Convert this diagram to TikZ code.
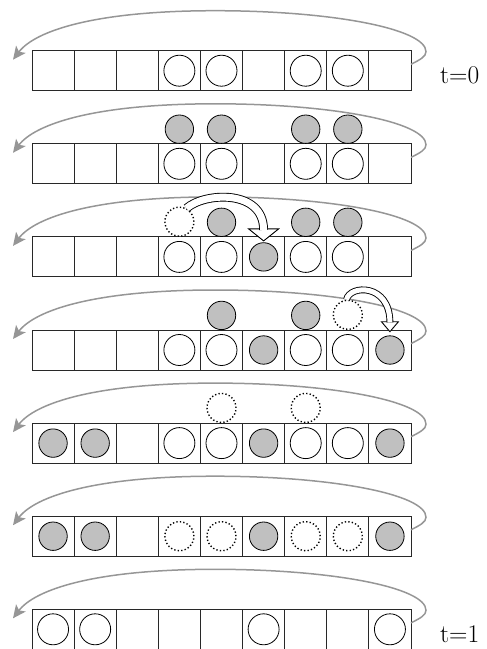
\documentclass[tikz,border=0pt]{standalone}
\usetikzlibrary{arrows.meta,calc}
\definecolor{loopgray}{RGB}{150,150,150}
\definecolor{ballgray}{RGB}{192,192,192}
\definecolor{cellline}{RGB}{40,40,40}
\tikzset{
 cellbox/.style={draw=cellline, line width=0.9pt, minimum width=42.11pt, minimum height=40pt, inner sep=0pt, outer sep=0pt},
 whiteball/.style={circle, draw=black, line width=0.8pt, fill=white, minimum size=31pt, inner sep=0pt},
 grayball/.style={circle, draw=black, line width=0.8pt, fill=ballgray, minimum size=28.4pt, inner sep=0pt},
 dotball/.style={circle, draw=black, line width=1.4pt, dash pattern=on 1.3pt off 2.2pt, fill=white, minimum size=29pt, inner sep=0pt},
 wrap/.style={draw=loopgray, line width=1.5pt, -{Stealth[length=13pt,width=12pt,inset=3pt]}},
 hollowhead/.style={draw=black, line width=0.9pt, fill=white, line join=miter},
 hollowshaft/.style={draw=black, line width=0.9pt, double=white},
 timelabel/.style={anchor=base west, inner sep=0pt, font=\fontsize{25.5}{30}\selectfont},
}
\begin{document}
\begin{tikzpicture}[x=1pt,y=-1pt]
\useasboundingbox (0,0) rectangle (487,649);
\foreach \k in {0,...,6} {
  \pgfmathsetmacro\T{50.7+93.1*\k}
  \foreach \j in {1,...,9} {
    \node[cellbox] (r\k-\j) at ({32+42.11*(\j-0.5)}, {\T+20}) {};
  }
  \coordinate (ws\k) at (411, {\T+13.6});
  \coordinate (we\k) at (13, {\T+9});
  \draw[wrap] (ws\k) .. controls +(9,-4.6) and +(0,5) .. (426,{\T+1})
     .. controls +(0,-23) and +(116.5,0) .. (215,{\T-40})
     .. controls +(-120,0) and (35,{\T-20}) .. (we\k);
}
% balls inside cells
\foreach \k/\j/\s in {0/4/whiteball,0/5/whiteball,0/7/whiteball,0/8/whiteball,
  1/4/whiteball,1/5/whiteball,1/7/whiteball,1/8/whiteball,
  2/4/whiteball,2/5/whiteball,2/6/grayball,2/7/whiteball,2/8/whiteball,
  3/4/whiteball,3/5/whiteball,3/6/grayball,3/7/whiteball,3/8/whiteball,3/9/grayball,
  4/1/grayball,4/2/grayball,4/4/whiteball,4/5/whiteball,4/6/grayball,4/7/whiteball,4/8/whiteball,4/9/grayball,
  5/1/grayball,5/2/grayball,5/4/dotball,5/5/dotball,5/6/grayball,5/7/dotball,5/8/dotball,5/9/grayball,
  6/1/whiteball,6/2/whiteball,6/6/whiteball,6/9/whiteball} {
  \node[\s] (b\k-\j) at (r\k-\j) {};
}
% balls above the rows
\foreach \k/\j/\s in {1/4/grayball,1/5/grayball,1/7/grayball,1/8/grayball,
  2/4/dotball,2/5/grayball,2/7/grayball,2/8/grayball,
  3/5/grayball,3/7/grayball,3/8/dotball,
  4/5/dotball,4/7/dotball} {
  \node[\s, anchor=south] (u\k-\j) at (r\k-\j.north) {};
}
% hollow arrows
\coordinate (tipA) at ($(r2-6.north)+(0,4)$);
\draw[hollowhead] (tipA) -- ++(-15,-12) -- ++(30,0) -- cycle;
\draw[hollowshaft, double distance=7pt] (u2-4.62) .. controls +(18,-16) and +(0,-41) .. ($(tipA)+(0,-11)$);
\coordinate (tipB) at ($(r3-9.north)+(0,1.7)$);
\draw[hollowhead] (tipB) -- ++(-8.5,-10) -- ++(17,0) -- cycle;
\draw[hollowshaft, double distance=5pt] (u3-8.95) .. controls +(3,-15) and +(0,-39.5) .. ($(tipB)+(0,-9.2)$);
% time labels
\node[timelabel] (t0) at (440, 83.7) {t=0};
\node[timelabel] (t1) at (440, 642.3) {t=1};
\end{tikzpicture}
\end{document}
